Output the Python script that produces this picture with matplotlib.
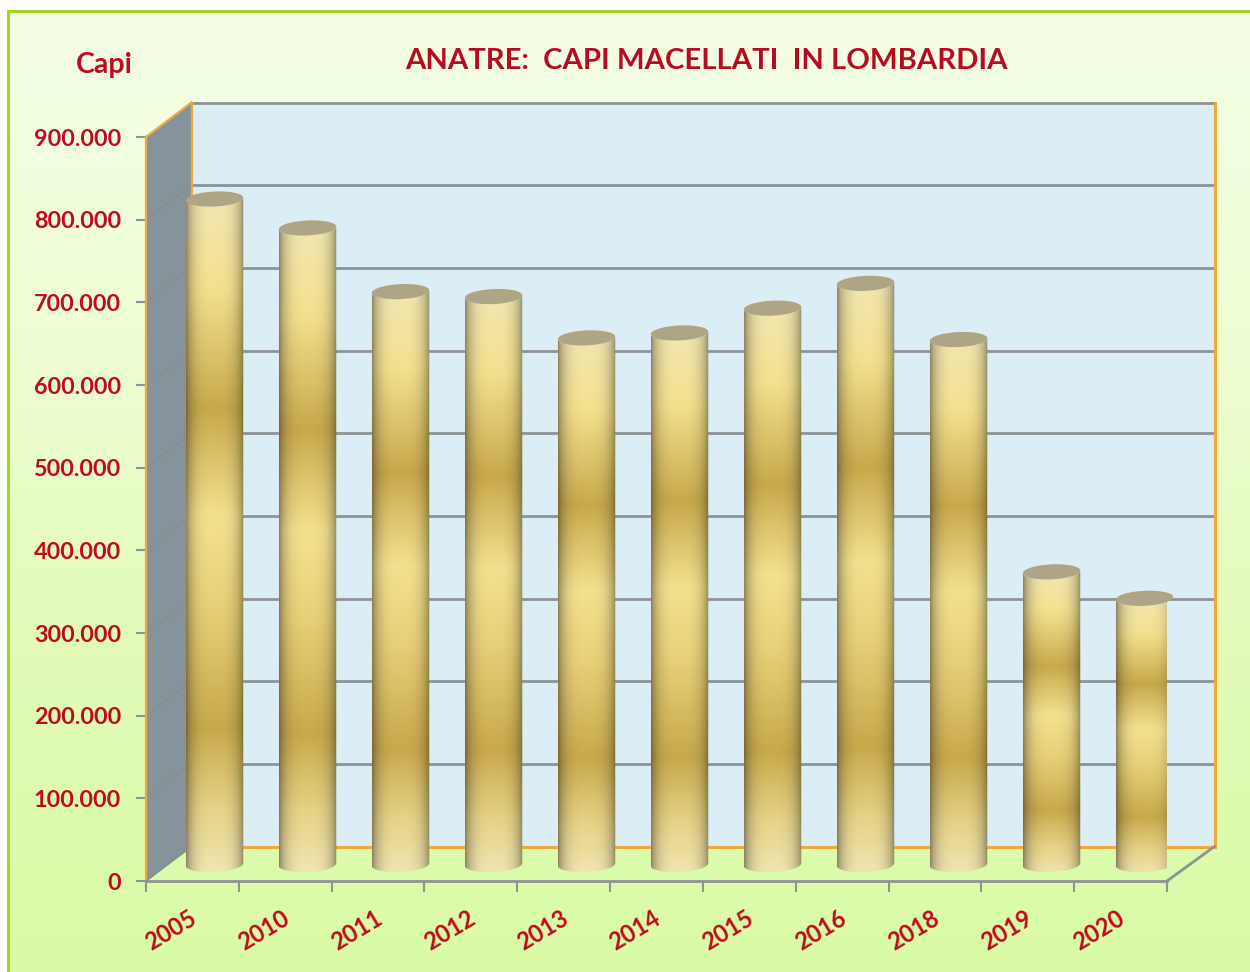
import numpy as np
import matplotlib
matplotlib.use("Agg")
import matplotlib.pyplot as plt
from matplotlib.colors import LinearSegmentedColormap, to_rgb
from matplotlib.patches import Polygon
from matplotlib.path import Path
from matplotlib.transforms import Affine2D
from matplotlib.ticker import FuncFormatter, FixedLocator, NullFormatter

years = ["2005", "2010", "2011", "2012", "2013", "2014", "2015", "2016", "2018", "2019", "2020"]
capi = [805000, 770000, 693000, 687000, 637000, 643000, 673000, 703000, 635000, 354000, 322000]
y_ticks = [0, 100000, 200000, 300000, 400000, 500000, 600000, 700000, 800000, 900000]
title = "ANATRE:  CAPI MACELLATI  IN LOMBARDIA"
y_title = "Capi"

W, H = 1250, 972
RED = "#C00A1E"
TITLE_RED = "#B80A20"
GRID = "#8E9296"
ORANGE = "#F2A93B"
FONT = "Lato"

fig = plt.figure(figsize=(W / 100, H / 100), dpi=100, facecolor="white")

# page background, in pixel coordinates
bg = fig.add_axes([0, 0, 1, 1], zorder=0)
bg.set_xlim(0, W)
bg.set_ylim(H, 0)
bg.axis("off")
bgcm = LinearSegmentedColormap.from_list("bg", ["#F4FFE6", "#EEFDD4", "#E2FBB8", "#D9FBA6"])
bg.imshow(np.linspace(0, 1, 256)[:, None], cmap=bgcm, extent=[8, W, H, 11], aspect="auto")
bg.plot([8, 8, W], [H, 11, 11], color="#A2D61E", lw=2.2, solid_joinstyle="miter")
bg.set_xlim(0, W)
bg.set_ylim(H, 0)

# main axes = front plane of the 3D box
L, R, T, B = 146, 1167, 137, 881
ax = fig.add_axes([L / W, 1 - B / H, (R - L) / W, (B - T) / H], zorder=1)
ax.patch.set_alpha(0)
n = len(years)
ymax = y_ticks[-1]
ax.set_xlim(0, n)
ax.set_ylim(0, ymax)

DX, DY = 45.5, 34.5       # depth of the box, pixels
back = ax.transData + Affine2D().translate(-L, 0).scale(1023 / 1021, 1).translate(L + DX, DY)
mid = ax.transData + Affine2D().translate(-L, 0).scale(1023 / 1021, 1).translate(L + 22.0, 16.5)

# walls
ax.add_patch(Polygon([(0, 0), (n, 0), (n, ymax), (0, ymax)], closed=True, transform=back,
                     fc="#DCEEF5", ec="none", zorder=1, clip_on=False))
p0b, p1b = back.transform((0, 0)), back.transform((n, 0))
p0f, p1f = ax.transData.transform((0, 0)), ax.transData.transform((n, 0))
tb = ax.transData.transform((0, ymax)); tbb = back.transform((0, ymax))
pix = None
ax.add_patch(Polygon([p0f, p1f, p1b, p0b], closed=True, transform=pix,
                     fc="#DAFBA9", ec="none", zorder=1, clip_on=False))
ax.add_patch(Polygon([p0f, p0b, tbb, tb], closed=True, transform=pix,
                     fc="#87939A", ec="none", zorder=1, clip_on=False))

# gridlines on back and side walls
for v in y_ticks[1:]:
    a = ax.transData.transform((0, v)); b = back.transform((0, v)); c = back.transform((n, v))
    if v < ymax:
        ax.plot([a[0], b[0]], [a[1], b[1]], transform=pix, color="#8A8C8E", lw=1.2, zorder=2, clip_on=False)
    ax.plot([b[0], c[0]], [b[1], c[1]], transform=pix, color=GRID, lw=2.0, zorder=2, clip_on=False)

# orange edges
ax.plot([p0b[0], tbb[0]], [p0b[1], tbb[1]], transform=pix, color=ORANGE, lw=1.6, zorder=2.2, clip_on=False)
ax.plot([tb[0], tbb[0]], [tb[1], tbb[1]], transform=pix, color=ORANGE, lw=1.6, zorder=2.2, clip_on=False)
ax.plot([p0f[0], tb[0]], [p0f[1], tb[1]], transform=pix, color=ORANGE, lw=1.6, zorder=2.2, clip_on=False)
ax.plot([p0b[0], p1b[0]], [p0b[1], p1b[1]], transform=pix, color=ORANGE, lw=2.2, zorder=2.2, clip_on=False)
tr = back.transform((n, ymax))
ax.plot([p1b[0], tr[0]], [p1b[1], tr[1]], transform=pix, color=ORANGE, lw=2.2, zorder=2.2, clip_on=False)
ax.plot([p1f[0], p1b[0]], [p1f[1], p1b[1]], transform=pix, color=GRID, lw=2.0, zorder=2.2, clip_on=False)
ax.plot([p0f[0], p0b[0]], [p0f[1], p0b[1]], transform=pix, color="#8A8C8E", lw=1.2, zorder=2.2, clip_on=False)

# cylinder shading
stops = [(0.00, "#F2E6B0"), (0.13, "#F4E18F"), (0.31, "#C8A94B"), (0.47, "#F4E18F"),
         (0.60, "#E8D078"), (0.78, "#C8A94B"), (0.90, "#E6D387"), (1.00, "#F2E6B4")]
vcm = LinearSegmentedColormap.from_list("cyl", [(p, c) for p, c in stops])
tt = np.linspace(0, 1, 400)
xx = np.linspace(-1, 1, 80)
edge = 0.50 + 0.50 * (np.clip(1 - np.abs(xx) ** 3.2, 0, 1)) ** 0.75
grey = np.array(to_rgb("#8F8B70"))

bar_w = 0.618   # category units
px_val = ymax / (B - T)
cap_h = 15.0 * px_val  # ellipse height, value units
tilt = 1.3 * px_val    # ellipse tilt, value units (rises to the right)

for i, v in enumerate(capi):
    x0, x1 = i + 0.5 - bar_w / 2, i + 0.5 + bar_w / 2
    col = vcm(tt)[:, :3]
    img = col[:, None, :] * edge[None, :, None] + grey[None, None, :] * (1 - edge[None, :, None]) * 0.25
    img = np.clip(img, 0, 1)
    ext = [x0, x1, -cap_h, v + tilt]
    im = ax.imshow(img, extent=ext, origin="upper", aspect="auto", zorder=3 + i * 0.01,
                   interpolation="bilinear")
    im.set_transform(mid)
    cx, hw, hh = i + 0.5, bar_w / 2, cap_h / 2
    th = np.linspace(np.pi, 2 * np.pi, 40)
    low = np.column_stack([cx + hw * np.cos(th), hh * np.sin(th) + tilt * np.cos(th)])
    up_th = th[::-1]
    up = np.column_stack([cx + hw * np.cos(up_th), v + hh * np.sin(up_th) + tilt * np.cos(up_th)])
    im.set_clip_path(Path(np.vstack([low, up, low[:1]])), mid)
    all_th = np.linspace(0, 2 * np.pi, 80)
    cap = np.column_stack([cx + hw * np.cos(all_th), v + hh * np.sin(all_th) + tilt * np.cos(all_th)])
    ax.add_patch(Polygon(cap, closed=True, transform=mid, fc="#ADA583", ec="none",
                         zorder=3.005 + i * 0.01, clip_on=False))
ax.set_xlim(0, n)
ax.set_ylim(0, ymax)

# axes furniture
for s in ("top", "right", "left"):
    ax.spines[s].set_visible(False)
ax.spines["bottom"].set_color(GRID)
ax.spines["bottom"].set_linewidth(2.0)
ax.spines["bottom"].set_zorder(2.5)

ax.set_yticks(y_ticks)
ax.yaxis.set_major_formatter(FuncFormatter(lambda v, _: f"{int(v):,}".replace(",", ".")))
ax.tick_params(axis="y", length=7.5, width=1.5, color=GRID, pad=10.5, labelsize=16.8, labelcolor=RED)
for t in ax.get_yticklabels():
    t.set_fontfamily(FONT); t.set_fontweight("bold")

ax.xaxis.set_major_locator(FixedLocator(np.arange(n + 1)))
ax.xaxis.set_major_formatter(NullFormatter())
ax.tick_params(axis="x", which="major", length=8, width=1.5, color=GRID, direction="out")
ax.xaxis.set_minor_locator(FixedLocator(np.arange(n) + 0.46))
ax.set_xticklabels(years, minor=True, rotation=31, ha="right", va="top",
                   rotation_mode="anchor", fontfamily=FONT, fontweight="bold",
                   fontsize=17, color=RED)
ax.tick_params(axis="x", which="minor", length=0, pad=18)

bg.text(706, 61, title, ha="center", va="center", fontsize=21.1, fontweight="bold",
        fontfamily=FONT, color=TITLE_RED)
bg.text(104, 65, y_title, ha="center", va="center", fontsize=20.5, fontweight="bold",
        fontfamily=FONT, color=RED)

fig.savefig("out.png", dpi=100, facecolor="white")
